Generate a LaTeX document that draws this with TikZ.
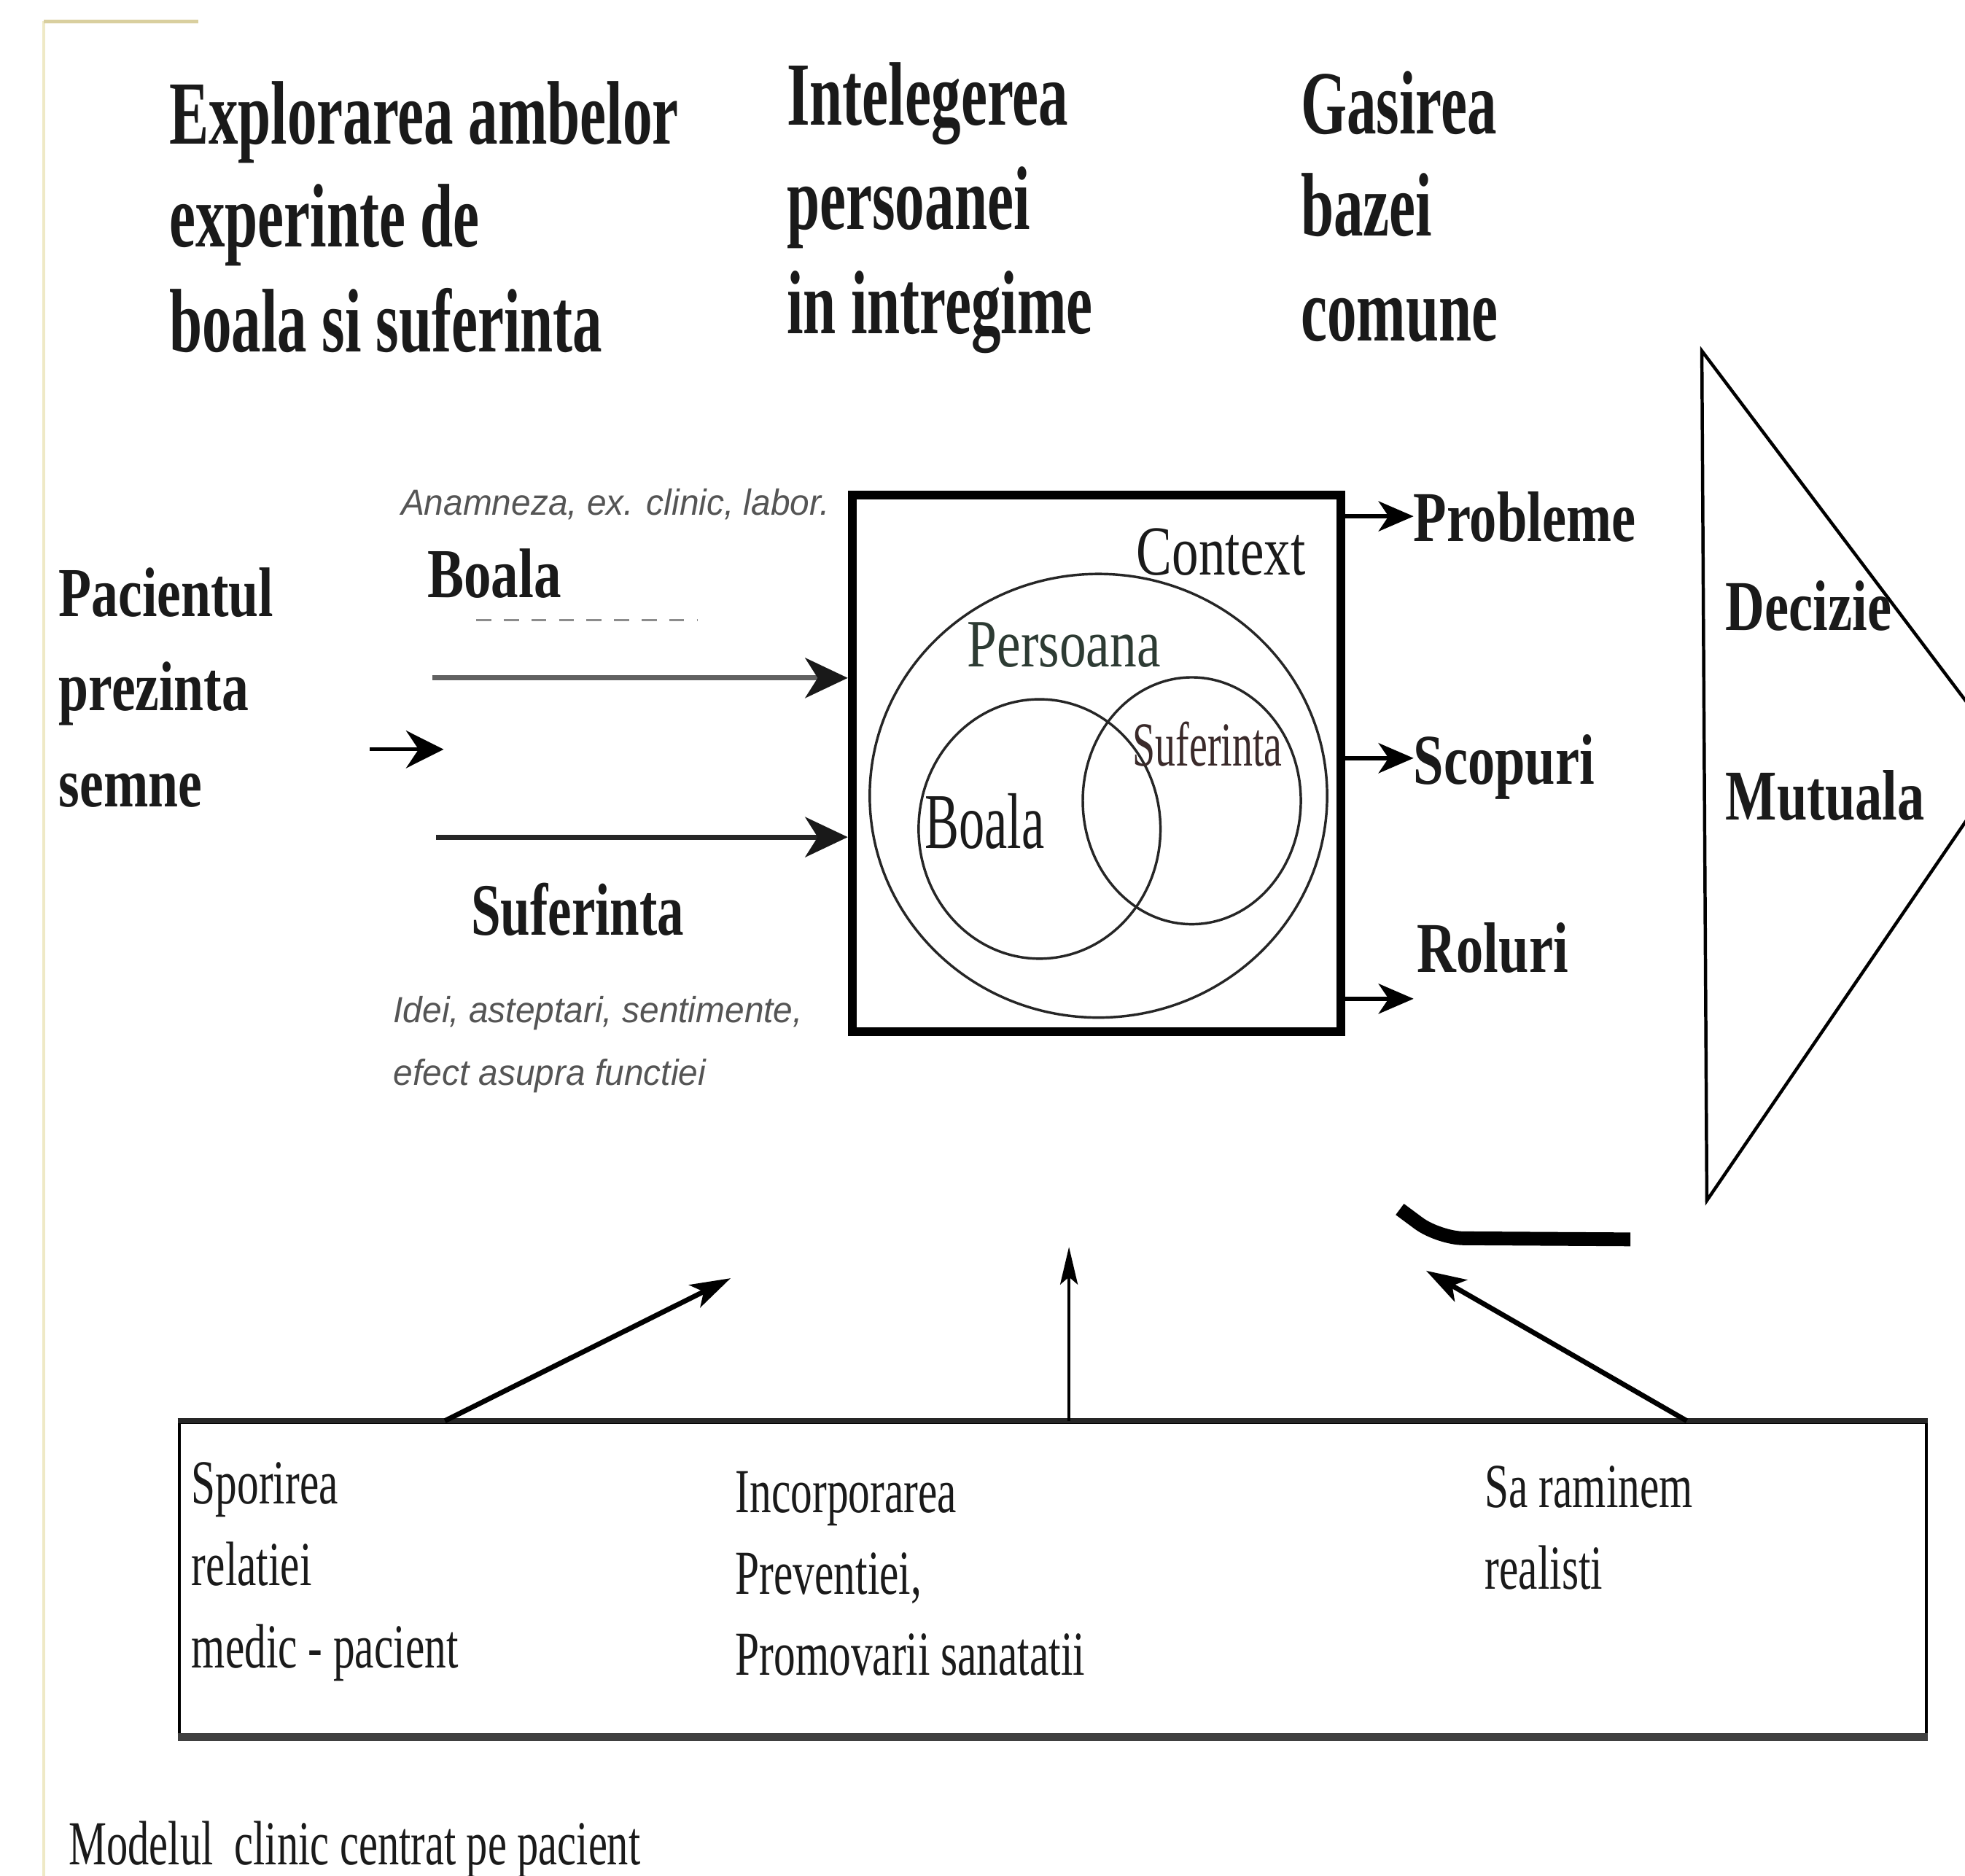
\documentclass[tikz,border=0pt]{standalone}
\usepackage{fontspec}
\usepackage{graphicx}
\setmainfont{Liberation Serif}
\newfontfamily\notefont{Liberation Sans}
\usetikzlibrary{arrows.meta,shapes.geometric}
\newcommand\cmpr[3]{\scalebox{#1}[1]{\fontsize{#2}{#2}\selectfont #3}}
\definecolor{ink}{HTML}{1A1A1A}
\definecolor{note}{HTML}{555555}
\definecolor{tan}{HTML}{D9CF9F}
\definecolor{tanl}{HTML}{EFE9C6}
\tikzset{
  txt/.style={inner sep=0pt, outer sep=0pt, anchor=base west, text=ink},
  head/.style={txt, font=\bfseries},
  bigarr/.style={line width=2pt, -{Stealth[length=17pt, width=16pt, inset=5pt, color=black!90]}},
  outarr/.style={line width=1.6pt, -{Stealth[length=14pt, width=12pt, inset=4pt]}},
  uparr/.style={line width=2pt, -{Stealth[length=16pt, width=10pt, inset=4pt]}},
  ring/.style={draw=black!85, line width=1pt, ellipse, inner sep=0pt},
}
\begin{document}
\begin{tikzpicture}[x=0.5pt, y=-0.5pt]
\useasboundingbox (0,0) rectangle (1568,1497);
\fill[white] (0,0) rectangle (1568,1497);
% scan artefacts
\draw[tanl, line width=1pt] (35,17) -- (35,1497);
\draw[tan, line width=1.5pt] (35,17) -- (158,17);

% header
\node[head] (h11) at (135,115) {\cmpr{0.655}{36pt}{Explorarea ambelor}};
\node[head] (h12) at (135,197) {\cmpr{0.655}{36pt}{experinte de}};
\node[head] (h13) at (135,281) {\cmpr{0.655}{36pt}{boala si suferinta}};
\node[head] (h21) at (628,100) {\cmpr{0.655}{36pt}{Intelegerea}};
\node[head] (h22) at (628,183) {\cmpr{0.655}{36pt}{persoanei}};
\node[head] (h23) at (628,266) {\cmpr{0.655}{36pt}{in intregime}};
\node[head] (h31) at (1038,107) {\cmpr{0.655}{36pt}{Gasirea}};
\node[head] (h32) at (1038,188) {\cmpr{0.655}{36pt}{bazei}};
\node[head] (h33) at (1038,272) {\cmpr{0.655}{36pt}{comune}};

% patient
\node[head] (p1) at (47,492) {\cmpr{0.765}{28pt}{Pacientul}};
\node[head] (p2) at (47,567) {\cmpr{0.765}{28pt}{prezinta}};
\node[head] (p3) at (47,644) {\cmpr{0.765}{28pt}{semne}};
\coordinate (pa0) at (295,598);
\coordinate (pa1) at (354,598);
\draw[line width=1.4pt, -{Stealth[length=15pt, width=15pt, inset=5pt]}] (pa0) -- (pa1);

% left inputs
\node[txt, text=note] (an) at (320,411) {\notefont\itshape\cmpr{0.96}{14.5pt}{Anamneza, ex. clinic, labor.}};
\node[head] (bo) at (341,477) {\cmpr{0.78}{28pt}{Boala}};
\coordinate (d0) at (380,495);
\coordinate (d1) at (557,495);
\draw[black!45, line width=0.8pt, dash pattern=on 6pt off 5pt] (d0) -- (d1);
\node[head] (su) at (376,746) {\cmpr{0.72}{29.5pt}{Suferinta}};
\node[txt, text=note] (id1) at (314,816) {\notefont\itshape\cmpr{0.96}{14.5pt}{Idei, asteptari, sentimente,}};
\node[txt, text=note] (id2) at (314,866) {\notefont\itshape\cmpr{0.96}{14.5pt}{efect asupra functiei}};

% central box
\node[draw, line width=3.5pt, minimum width=195pt, minimum height=214pt, inner sep=0pt] (ctx) at (875,609) {};
\coordinate (a1) at (345,541);
\coordinate (a2) at (348,668);
\draw[bigarr, draw=black!62] (a1) -- (a1 -| ctx.west);
\draw[bigarr, draw=black!85] (a2) -- (a2 -| ctx.west);

\node[ring, minimum width=182.5pt, minimum height=177pt] (pers) at (876.5,635) {};
\node[ring, minimum width=96.5pt, minimum height=103.5pt] (cb) at (829.5,661.5) {};
\node[ring, minimum width=87pt, minimum height=98.5pt] (cs) at (951,639) {};

\node[txt] (lc) at (907,459) {\cmpr{0.76}{28pt}{Context}};
\node[txt, text={rgb,255:red,45;green,59;blue,51}] (lp) at (772,532) {\cmpr{0.79}{27pt}{Persoana}};
\node[txt, text={rgb,255:red,58;green,42;blue,42}] (ls) at (904,611) {\cmpr{0.65}{25pt}{Suferinta}};
\node[txt] (lb) at (738,677) {\cmpr{0.65}{31.5pt}{Boala}};

% outputs
\node[head] (pr) at (1128,432) {\cmpr{0.76}{28.5pt}{Probleme}};
\node[head] (sc) at (1128,626) {\cmpr{0.76}{28.5pt}{Scopuri}};
\node[head] (ro) at (1131,776) {\cmpr{0.76}{28.5pt}{Roluri}};
\coordinate (o1) at (1128,412);
\coordinate (o2) at (1128,605);
\coordinate (o3) at (1128,797);
\draw[outarr] (o1 -| ctx.east) -- (o1);
\draw[outarr] (o2 -| ctx.east) -- (o2);
\draw[outarr] (o3 -| ctx.east) -- (o3);

% decision triangle
\begin{scope}
\clip (0,0) rectangle (1568,1497);
\coordinate (t1) at (1358,280);
\coordinate (t2) at (1603,605);
\coordinate (t3) at (1362,958);
\draw[line width=1.3pt, line join=miter] (t1) -- (t2) -- (t3) -- cycle;
\end{scope}
\node[head] (de) at (1377,503) {\cmpr{0.76}{28.5pt}{Decizie}};
\node[head] (mu) at (1377,654) {\cmpr{0.76}{28.5pt}{Mutuala}};

% dark bar
\coordinate (k0) at (1117,965);
\coordinate (k1) at (1148,988);
\coordinate (k2) at (1301,989);
\draw[line width=5.5pt, line join=round, rounded corners=10pt] (k0) -- (k1) -- (k2);

% bottom box
\node[draw, line width=1.2pt, minimum width=697pt, minimum height=125pt, inner sep=0pt] (bb) at (840,1260) {};
\draw[line width=2pt, black!85] (bb.north west) -- (bb.north east);
\draw[line width=3pt, black!75] (bb.south west) -- (bb.south east);

\coordinate (q1) at (355,0);
\coordinate (q3) at (1346,0);
\coordinate (u1) at (583,1020);
\coordinate (u2) at (853,995);
\coordinate (u3) at (1138,1014);
\draw[uparr] (q1 |- bb.north) -- (u1);
\draw[line width=1.2pt, -{Stealth[length=15pt, width=7pt, inset=3pt]}] (u2 |- bb.north) -- (u2);
\draw[uparr] (q3 |- bb.north) -- (u3);

\node[txt] (s1) at (153,1200) {\cmpr{0.69}{25pt}{Sporirea}};
\node[txt] (s2) at (153,1265) {\cmpr{0.69}{25pt}{relatiei}};
\node[txt] (s3) at (153,1331) {\cmpr{0.69}{25pt}{medic - pacient}};
\node[txt] (i1) at (587,1207) {\cmpr{0.69}{25pt}{Incorporarea}};
\node[txt] (i2) at (587,1272) {\cmpr{0.69}{25pt}{Preventiei,}};
\node[txt] (i3) at (587,1337) {\cmpr{0.69}{25pt}{Promovarii sanatatii}};
\node[txt] (r1) at (1185,1203) {\cmpr{0.69}{25pt}{Sa raminem}};
\node[txt] (r2) at (1185,1268) {\cmpr{0.69}{25pt}{realisti}};

\node[txt] (cap) at (55,1488) {\cmpr{0.68}{25pt}{Modelul\ \ clinic centrat pe pacient}};
\end{tikzpicture}
\end{document}
